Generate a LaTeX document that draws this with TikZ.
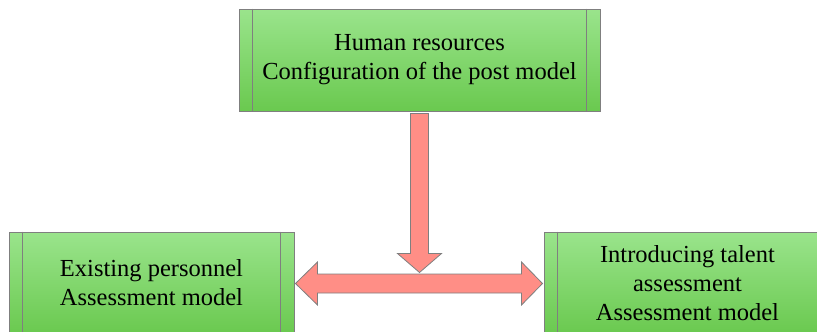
\documentclass[tikz,border=0pt]{standalone}
\usepackage{fontspec}
\setmainfont{Liberation Serif}
\usetikzlibrary{calc}
\definecolor{boxtop}{HTML}{9AE48C}
\definecolor{boxbot}{HTML}{6AC94F}
\definecolor{edge}{HTML}{7F7F7F}
\definecolor{arrowfill}{HTML}{FF8E86}
\tikzset{
  procbox/.style={draw=edge, line width=1pt, top color=boxtop, bottom color=boxbot,
    minimum height=102pt, inner sep=0pt, align=center,
    font=\fontsize{24.5}{29}\selectfont},
  bigarrow/.style={draw=edge, line width=0.8pt, fill=arrowfill, line join=miter},
  sideline/.style={draw=edge, line width=1pt}
}
\newcommand{\sidestrips}[1]{%
  \draw[sideline] ($(#1.north west)+(14,0)$) -- ($(#1.south west)+(14,0)$);
  \draw[sideline] ($(#1.north east)+(-14,0)$) -- ($(#1.south east)+(-14,0)$);}
\begin{document}
\begin{tikzpicture}[x=1pt,y=-1pt]
  \useasboundingbox (0,0) rectangle (817,332);
  \clip (0,0) rectangle (817,332);

  % process boxes
  \node[procbox, minimum width=361pt] (top) at (419.5,60) {Human resources\\Configuration of the post model};
  \node[procbox, minimum width=285pt] (left) at (151.5,283) {Existing personnel\\Assessment model};
  \node[procbox, minimum width=287pt] (right) at (687.5,283) {Introducing talent\\assessment\\Assessment model};
  \sidestrips{top}
  \sidestrips{left}
  \sidestrips{right}

  % downward block arrow
  \coordinate (dtip) at ($(top.south)+(0,161)$);
  \draw[bigarrow] (dtip) -- ++(22,-19) -- ++(-13,0) -- ($(top.south)+(9,2)$)
    -- ($(top.south)+(-9,2)$) -- ++(0,140) -- ++(-13,0) -- cycle;

  % double-headed block arrow between the lower boxes
  \coordinate (ltip) at ($(left.east)+(1,0.5)$);
  \coordinate (rtip) at ($(right.west)+(-1,0.5)$);
  \draw[bigarrow] (ltip) -- ++(22,-21.5) -- ++(0,12) -- ($(rtip)+(-21,-9.5)$)
    -- ++(0,-12) -- (rtip) -- ++(-21,21.5) -- ++(0,-12) -- ($(ltip)+(22,9.5)$)
    -- ++(0,12) -- cycle;
\end{tikzpicture}
\end{document}
